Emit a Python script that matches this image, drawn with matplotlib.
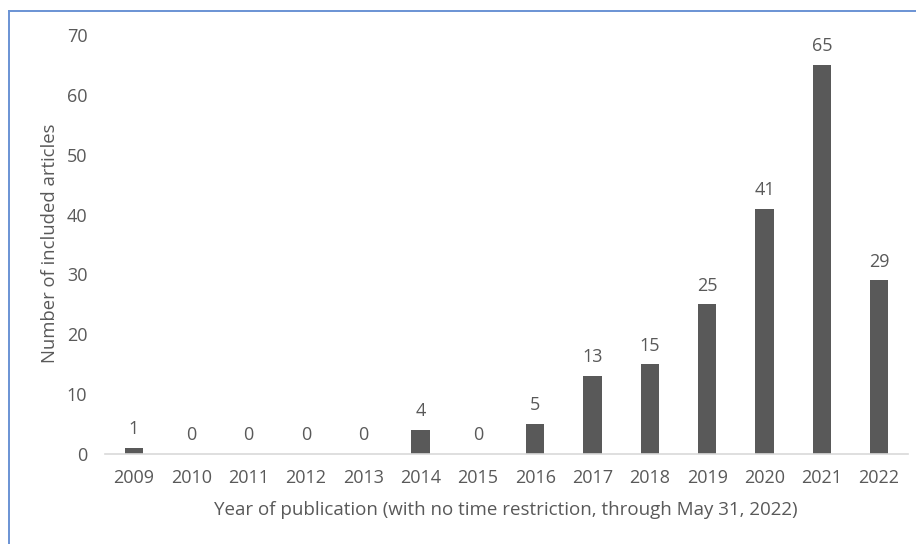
import matplotlib
matplotlib.use("Agg")
import matplotlib.pyplot as plt
from matplotlib.lines import Line2D

years = ["2009", "2010", "2011", "2012", "2013", "2014", "2015", "2016",
         "2017", "2018", "2019", "2020", "2021", "2022"]
counts = [1, 0, 0, 0, 0, 4, 0, 5, 13, 15, 25, 41, 65, 29]
yticks = [0, 10, 20, 30, 40, 50, 60, 70]

plt.rcParams['font.family'] = ['Open Sans', 'DejaVu Sans']
txt = '#595959'

fig = plt.figure(figsize=(9.16, 5.44), dpi=100)
ax = fig.add_axes([0.115, 0.1654, 0.876, 0.7703])
x = list(range(len(years)))
bars = ax.bar(x, counts, width=0.32, color='#595959', zorder=2)
for xi, v in zip(x, counts):
    ax.annotate(str(v), (xi, v), xytext=(0, 7), textcoords='offset points',
                ha='center', va='bottom', fontsize=13, color=txt)
ax.set_xlim(-0.5, len(years) - 0.5)
ax.set_ylim(0, 70)
ax.set_yticks(yticks)
ax.set_xticks(x)
ax.set_xticklabels(years)
ax.tick_params(axis='both', length=0, labelsize=13, labelcolor=txt)
ax.tick_params(axis='x', pad=11)
ax.tick_params(axis='y', pad=13)
for s in ['top', 'right', 'left']:
    ax.spines[s].set_visible(False)
ax.spines['bottom'].set_color('#d9d9d9')
ax.spines['bottom'].set_linewidth(1.2)

fig.text(506/916, 1 - 510/544,
         'Year of publication (with no time restriction, through May 31, 2022)',
         fontsize=13.5, color=txt, ha='center', va='center')
fig.text(50/916, 1 - 243/544, 'Number of included articles', rotation=90,
         fontsize=13.3, color=txt, ha='center', va='center')

bc = '#6a93d4'
fig.add_artist(Line2D([9/916, 9/916], [0, 1 - 11/544], transform=fig.transFigure,
                      color=bc, lw=1.4))
fig.add_artist(Line2D([9/916, 1], [1 - 11/544, 1 - 11/544], transform=fig.transFigure,
                      color=bc, lw=1.4))

fig.savefig('out.png', dpi=100, facecolor='white')
